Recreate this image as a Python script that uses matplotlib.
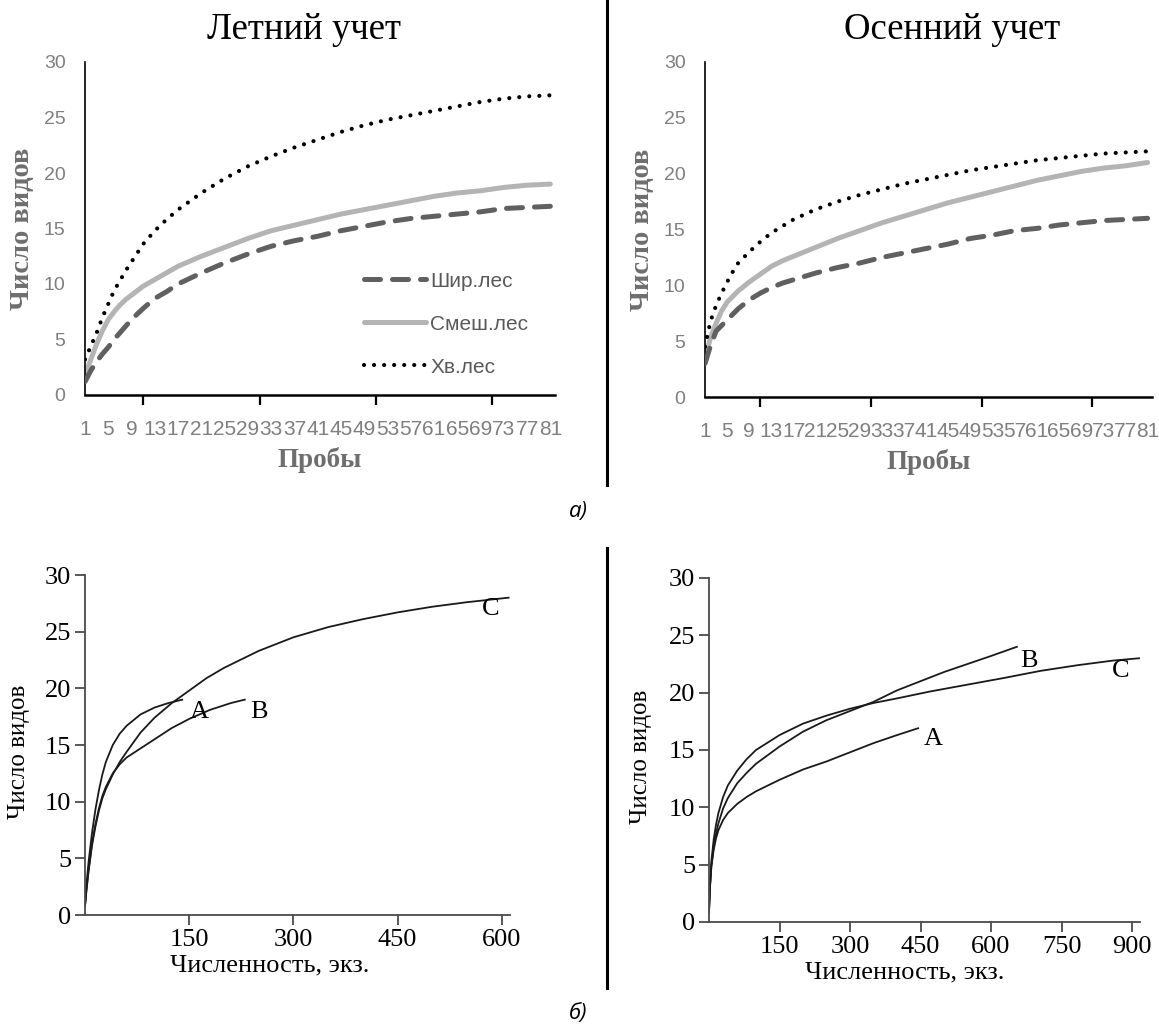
import matplotlib
matplotlib.use("Agg")
import matplotlib.pyplot as plt
from matplotlib.lines import Line2D

# ---------------- data ----------------
# (a) rarefaction by number of samples
samples = [1, 2, 3, 4, 5, 6, 7, 8, 9, 11, 13, 15, 17, 21, 25, 29, 33, 37, 41, 45,
           49, 53, 57, 61, 65, 69, 73, 77, 81]
sample_ticks = list(range(1, 82, 4))
sample_tick_labels = [str(v) for v in sample_ticks]

summer_shir = [1.2, 2.2, 3.0, 3.7, 4.3, 5.0, 5.6, 6.2, 6.8, 7.8, 8.7, 9.3, 10.0, 11.0,
               11.9, 12.7, 13.4, 13.9, 14.3, 14.8, 15.2, 15.6, 15.9, 16.1, 16.3, 16.5,
               16.8, 16.9, 17.0]
summer_smesh = [1.8, 3.2, 4.6, 5.8, 6.8, 7.5, 8.1, 8.6, 9.0, 9.8, 10.4, 11.0, 11.6, 12.5,
                13.3, 14.1, 14.8, 15.3, 15.8, 16.3, 16.7, 17.1, 17.5, 17.9, 18.2, 18.4,
                18.7, 18.9, 19.0]
summer_hv = [3.2, 4.4, 5.6, 7.0, 8.2, 9.4, 10.3, 11.2, 12.0, 13.6, 14.8, 15.8, 16.7, 18.2,
             19.5, 20.6, 21.5, 22.3, 23.0, 23.7, 24.3, 24.8, 25.2, 25.6, 26.0, 26.4,
             26.7, 26.9, 27.0]

autumn_shir = [3.0, 4.6, 5.9, 6.4, 6.9, 7.4, 7.9, 8.3, 8.7, 9.3, 9.8, 10.2, 10.5, 11.1,
               11.6, 12.0, 12.5, 12.9, 13.3, 13.7, 14.2, 14.5, 14.9, 15.1, 15.4, 15.6,
               15.8, 15.9, 16.0]
autumn_smesh = [3.5, 5.3, 6.6, 7.7, 8.5, 9.0, 9.5, 9.9, 10.3, 11.0, 11.7, 12.2, 12.6, 13.4,
                14.2, 14.9, 15.6, 16.2, 16.8, 17.4, 17.9, 18.4, 18.9, 19.4, 19.8, 20.2,
                20.5, 20.7, 21.0]
autumn_hv = [4.5, 6.8, 8.2, 9.3, 10.3, 11.2, 12.0, 12.5, 13.0, 13.9, 14.7, 15.3, 15.9, 16.8,
             17.5, 18.1, 18.6, 19.1, 19.5, 19.9, 20.3, 20.6, 20.9, 21.2, 21.4, 21.6,
             21.8, 21.9, 22.0]

series_names = ["Шир.лес", "Смеш.лес", "Хв.лес"]

# (b) rarefaction by number of individuals
bl_A_x = [0, 2, 5, 10, 15, 20, 25, 30, 40, 50, 60, 70, 80, 90, 100, 110, 120, 130, 140]
bl_A_y = [0.8, 2.6, 4.6, 7.2, 9.3, 11.0, 12.4, 13.5, 15.0, 16.0, 16.7, 17.2, 17.7, 18.0,
          18.3, 18.5, 18.7, 18.85, 19.0]
bl_B_x = [0, 2, 5, 10, 15, 20, 25, 30, 40, 50, 60, 70, 80, 100, 125, 150, 180, 210, 230]
bl_B_y = [0.8, 2.2, 3.9, 6.3, 8.0, 9.4, 10.5, 11.3, 12.5, 13.3, 13.9, 14.3, 14.7, 15.5,
          16.5, 17.3, 18.1, 18.7, 19.0]
bl_C_x = [0, 2, 5, 10, 15, 20, 25, 30, 40, 50, 60, 80, 100, 125, 150, 175, 200, 250, 300,
          350, 400, 450, 500, 550, 610]
bl_C_y = [0.8, 2.1, 3.8, 6.1, 7.8, 9.2, 10.3, 11.1, 12.4, 13.5, 14.4, 16.1, 17.4, 18.7,
          19.8, 20.9, 21.8, 23.3, 24.5, 25.4, 26.1, 26.7, 27.2, 27.6, 28.0]

br_A_x = [0, 2, 5, 10, 15, 20, 30, 40, 60, 80, 100, 150, 200, 250, 300, 350, 400, 445]
br_A_y = [0.9, 3.0, 4.8, 6.3, 7.3, 8.0, 8.9, 9.5, 10.3, 10.9, 11.4, 12.4, 13.3, 14.0,
          14.8, 15.6, 16.3, 16.9]
br_B_x = [0, 2, 5, 10, 15, 20, 30, 40, 60, 80, 100, 150, 200, 250, 300, 350, 400, 450,
          500, 550, 600, 655]
br_B_y = [0.9, 3.0, 4.9, 6.6, 7.7, 8.6, 9.9, 10.8, 12.1, 13.0, 13.8, 15.3, 16.6, 17.6,
          18.4, 19.2, 20.2, 21.0, 21.8, 22.5, 23.2, 24.0]
br_C_x = [0, 2, 5, 10, 15, 20, 30, 40, 60, 80, 100, 150, 200, 250, 300, 350, 400, 470,
          550, 630, 705, 785, 860, 915]
br_C_y = [0.9, 3.1, 5.3, 7.2, 8.5, 9.5, 10.9, 11.9, 13.2, 14.2, 15.0, 16.3, 17.3, 18.0,
          18.6, 19.1, 19.5, 20.1, 20.7, 21.3, 21.9, 22.4, 22.8, 23.0]

curve_labels = ["A", "B", "C"]
bl_label_pos = [(164, 17.9), (250, 17.9), (584, 27.0)]
br_label_pos = [(478, 16.0), (681, 22.8), (875, 21.9)]

# ---------------- figure ----------------
W, H = 1159, 1034
fig = plt.figure(figsize=(W / 100, H / 100), dpi=100)
fig.patch.set_facecolor("white")


def fx(px):
    return px / W


def fy(py):
    return 1 - py / H


SERIF = ["Liberation Serif", "DejaVu Serif"]
SANS = ["Liberation Sans", "DejaVu Sans"]
GRAY_TXT = "#7f7f7f"


def top_panel(rect, shir, smesh, hv, title, title_x, legend):
    ax = fig.add_axes(rect)
    ax.plot(samples, smesh, color="#b4b4b4", lw=3.6, solid_capstyle="round",
            label=series_names[1], zorder=2)
    ax.plot(samples, shir, color="#606060", lw=3.6, linestyle=(0, (3.2, 2.4)),
            dash_capstyle="round", label=series_names[0], zorder=3)
    ax.plot(samples, hv, color="black", lw=3.0, linestyle=(0, (0.01, 2.4)),
            dash_capstyle="round", label=series_names[2], zorder=4)
    ax.set_xlim(1, 81.8)
    ax.set_ylim(0, 30)
    ax.set_yticks(range(0, 31, 5))
    ax.set_xticks(sample_ticks)
    ax.set_xticklabels(sample_tick_labels)
    ax.set_xticks(range(1, 82, 10), minor=True)
    ax.tick_params(axis="x", which="major", length=0, pad=18, labelsize=15,
                   labelcolor=GRAY_TXT)
    ax.tick_params(axis="x", which="minor", length=7, width=1.6, direction="out",
                   color="black")
    ax.tick_params(axis="y", length=0, pad=14, labelsize=14, labelcolor=GRAY_TXT)
    for lab in ax.get_xticklabels() + ax.get_yticklabels():
        lab.set_fontfamily(SANS)
    for s in ("top", "right"):
        ax.spines[s].set_visible(False)
    ax.spines["left"].set_linewidth(1.2)
    ax.spines["bottom"].set_linewidth(1.8)
    ax.set_ylabel("Число видов", family=SERIF, fontweight="bold", fontsize=20.5,
                  color="#6e6e6e", labelpad=6)
    ax.set_xlabel("Пробы", family=SERIF, fontweight="bold", fontsize=19.5,
                  color="#6e6e6e", labelpad=6)
    fig.text(fx(title_x), fy(30), title, family=SERIF, fontsize=26.5,
             ha="center", va="center")
    if legend:
        h, l = ax.get_legend_handles_labels()
        order = [1, 0, 2]
        ax.legend([h[i] for i in order], [l[i] for i in order], loc="lower left",
                  bbox_to_anchor=(0.575, 0.03), frameon=False, handlelength=3.0,
                  handletextpad=0.2, labelspacing=1.15, borderaxespad=0,
                  prop={"family": SANS, "size": 15}, labelcolor="#595959")
    return ax


top_panel([fx(85), fy(395), fx(555) - fx(85), fy(62) - fy(395)],
          summer_shir, summer_smesh, summer_hv, "Летний учет", 304, True)
top_panel([fx(705), fy(397), fx(1152) - fx(705), fy(62) - fy(397)],
          autumn_shir, autumn_smesh, autumn_hv, "Осенний учет", 952, False)


def bottom_panel(rect, xs, ys, xmax, xticks, label_pos, ylab_x, xlab_x):
    ax = fig.add_axes(rect)
    for x, y in zip(xs, ys):
        ax.plot(x, y, color="#1a1a1a", lw=1.3)
    for name, (px, py) in zip(curve_labels, label_pos):
        ax.text(px, py, name, family=SERIF, fontsize=19, ha="center", va="center")
    ax.set_xlim(0, xmax)
    ax.set_ylim(0, 30)
    ax.set_yticks(range(0, 31, 5))
    ax.set_xticks(xticks)
    for s in ("top", "right"):
        ax.spines[s].set_visible(False)
    for s in ("left", "bottom"):
        ax.spines[s].set_color("#4a4a4a")
        ax.spines[s].set_linewidth(1.3)
    ax.tick_params(direction="out", length=7, width=1.3, color="#4a4a4a",
                   labelsize=19, pad=3)
    for lab in ax.get_xticklabels() + ax.get_yticklabels():
        lab.set_fontfamily(SERIF)
    ax.set_ylabel("Число видов", family=SERIF, fontsize=18)
    ax.set_xlabel("Численность, экз.", family=SERIF, fontsize=19)
    l, b, w, h = rect
    ax.yaxis.set_label_coords((fx(ylab_x) - l) / w, 0.48)
    ax.xaxis.set_label_coords((fx(xlab_x) - l) / w, -0.115)
    return ax


bottom_panel([fx(85), fy(915), fx(510) - fx(85), fy(575) - fy(915)],
             [bl_A_x, bl_B_x, bl_C_x], [bl_A_y, bl_B_y, bl_C_y], 612,
             [150, 300, 450, 600], bl_label_pos, 30, 270)
bottom_panel([fx(709), fy(922), fx(1140) - fx(709), fy(578) - fy(922)],
             [br_A_x, br_B_x, br_C_x], [br_A_y, br_B_y, br_C_y], 917,
             [150, 300, 450, 600, 750, 900], br_label_pos, 652, 905)

# dividers
fig.add_artist(Line2D([fx(607), fx(607)], [fy(0), fy(485)], transform=fig.transFigure,
                      color="black", lw=2.2))
fig.add_artist(Line2D([fx(607), fx(607)], [fy(548), fy(988)],
                      transform=fig.transFigure, color="black", lw=2.2))

# panel captions
fig.text(fx(578), fy(512), "а)", family=["Open Sans", "DejaVu Sans"], style="italic",
         fontsize=16, ha="center", va="center")
fig.text(fx(578), fy(1014), "б)", family=["Open Sans", "DejaVu Sans"], style="italic",
         fontsize=16, ha="center", va="center")

fig.savefig("out.png", dpi=100, facecolor="white")
